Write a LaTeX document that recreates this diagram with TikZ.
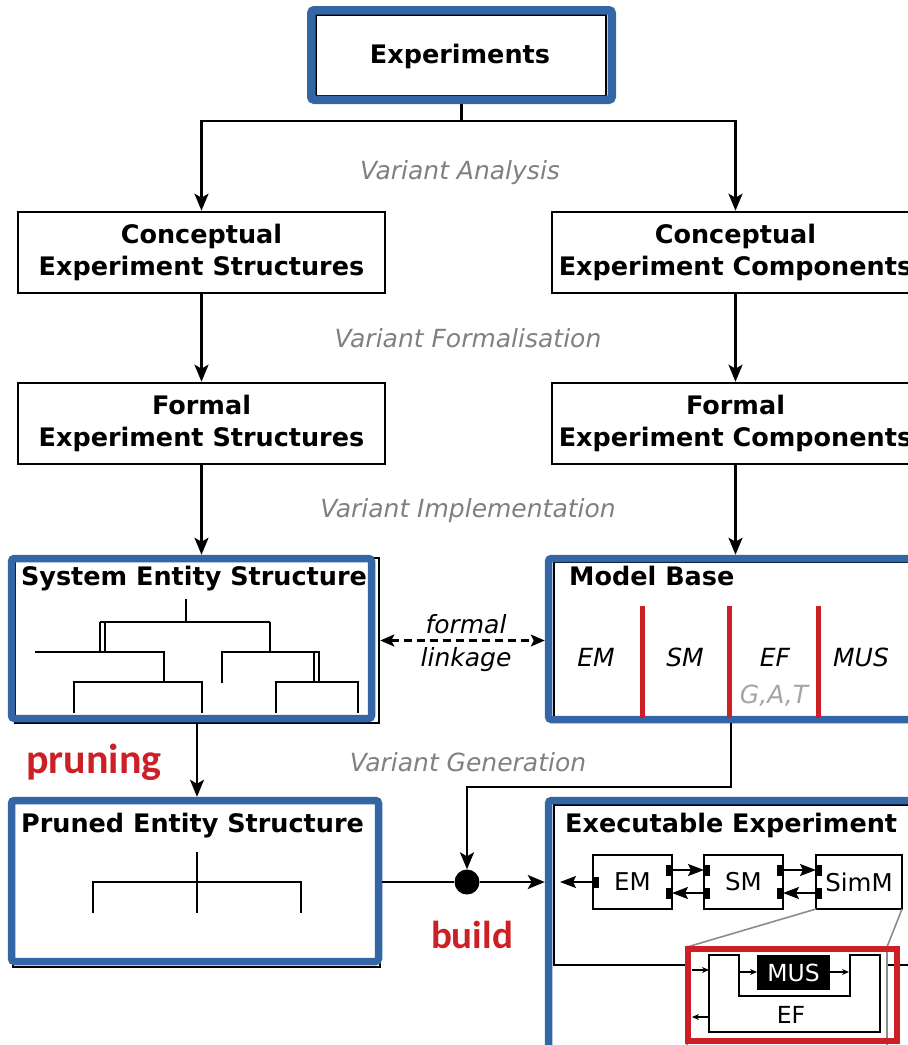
\documentclass[tikz,border=0pt]{standalone}
\usepackage{fontspec}
\setmainfont{DejaVu Sans}
\newfontfamily\calib{Carlito}
\usetikzlibrary{arrows.meta}

\definecolor{frameblue}{RGB}{52,101,164}
\definecolor{accentred}{RGB}{204,31,38}
\definecolor{labelgray}{RGB}{128,128,128}
\definecolor{palegray}{RGB}{165,165,165}
\definecolor{zoomgray}{RGB}{140,140,140}

\begin{document}
\begin{tikzpicture}[x=1pt, y=-1pt,
  box/.style={draw, line width=2.6pt, fill=white, align=center, inner sep=0pt,
    font=\fontsize{25.5}{32}\selectfont\bfseries},
  blackbox/.style={draw, line width=2.6pt, fill=white, inner sep=0pt},
  frame/.style={draw=frameblue, line width=7.5pt, rounded corners=3pt, inner sep=0pt},
  title/.style={anchor=base, inner sep=0pt, font=\fontsize{25.5}{30}\selectfont\bfseries},
  varlabel/.style={anchor=base, inner sep=0pt, text=labelgray,
    font=\fontsize{25}{30}\selectfont\itshape},
  mbtext/.style={anchor=base, inner sep=0pt, font=\fontsize{25}{30}\selectfont\itshape},
  redword/.style={anchor=base, inner sep=0pt, text=accentred},
  smallbox/.style={draw, line width=1.8pt, fill=white, minimum height=54pt,
    inner sep=0pt, outer sep=0pt, font=\fontsize{24.5}{28}\selectfont},
  port/.style={fill=black, minimum width=6pt, minimum height=11pt, inner sep=0pt, outer sep=0pt},
  arr/.style={-{Stealth[length=17pt,width=14pt,inset=4pt]}, line width=2.4pt},
  darr/.style={{Stealth[length=14pt,width=12pt,inset=3pt]}-{Stealth[length=14pt,width=12pt,inset=3pt]},
    line width=2.2pt, dash pattern=on 8pt off 5pt},
  smallarr/.style={-{Stealth[length=16pt,width=12pt,inset=3pt]}, line width=2pt},
  tinyarr/.style={-{Stealth[length=7pt,width=6pt]}, line width=1.3pt},
  tree/.style={line width=2.3pt},
  zoomline/.style={draw=zoomgray, line width=1.6pt},
  redbar/.style={draw=accentred, line width=5pt}
]
\useasboundingbox (0,0) rectangle (908,1045);

% ---------- Experiments ----------
\node[blackbox, minimum width=290pt, minimum height=81pt] (exps) at (461,55.5) {};
\node[frame, line width=8.5pt, minimum width=300.5pt, minimum height=89.5pt] (expsF) at (461.5,55) {};
\node[title] (expsT) at (460,63) {Experiments};

% ---------- conceptual and formal boxes ----------
\node[box, minimum width=367pt, minimum height=81pt] (cstruct) at (201.5,252.5) {Conceptual\\Experiment Structures};
\node[box, minimum width=367pt, minimum height=81pt] (ccomp) at (735.5,252.5) {Conceptual\\Experiment Components};
\node[box, minimum width=367pt, minimum height=81pt] (fstruct) at (201.5,423.5) {Formal\\Experiment Structures};
\node[box, minimum width=367pt, minimum height=81pt] (fcomp) at (735.5,423.5) {Formal\\Experiment Components};

% ---------- System Entity Structure ----------
\node[blackbox, minimum width=364pt, minimum height=165pt] (ses) at (197,640.5) {};
\node[frame, minimum width=360pt, minimum height=160pt] (sesF) at (191.5,638.5) {};
\node[title] (sesT) at (194,585) {System Entity Structure};
\draw[tree] (185.7,599) -- (185.7,622);
\draw[tree] (100,622) -- (270,622);
\draw[tree] (100,622) -- (100,652);
\draw[tree] (105,622) -- (105,652);
\draw[tree] (270,622) -- (270,652);
\draw[tree] (35,652) -- (164,652) -- (164,682);
\draw[tree] (74,713) -- (74,682) -- (202,682) -- (202,713);
\draw[tree] (222,683) -- (222,652) -- (320,652);
\draw[tree] (314,652) -- (314,682);
\draw[tree] (319,652) -- (319,682);
\draw[tree] (276,713) -- (276,682) -- (358,682) -- (358,713);

% ---------- Model Base ----------
\node[blackbox, minimum width=365pt, minimum height=156pt] (mb) at (736.5,640) {};
\node[frame, minimum width=372.5pt, minimum height=161pt] (mbF) at (734.75,639) {};
\node[title, anchor=base west] (mbT) at (569,585) {Model Base};
\draw[redbar] (642,606) -- (642,718);
\draw[redbar] (729,606) -- (729,718);
\draw[redbar] (818,606) -- (818,718);
\node[mbtext] (mbEM) at (596,666) {EM};
\node[mbtext] (mbSM) at (685,666) {SM};
\node[mbtext] (mbEF) at (775,666) {EF};
\node[mbtext, text=palegray] (mbGAT) at (774,703) {G,A,T};
\node[mbtext] (mbMUS) at (861,666) {MUS};

% ---------- Pruned Entity Structure ----------
\node[blackbox, minimum width=367pt, minimum height=167pt] (pes) at (196.5,883.5) {};
\node[frame, minimum width=367pt, minimum height=161pt] (pesF) at (195,881) {};
\node[title] (pesT) at (192.5,832) {Pruned Entity Structure};
\draw[tree] (197,852) -- (197,913);
\draw[tree] (93,913) -- (93,882) -- (301,882) -- (301,913);

% ---------- Executable Experiment ----------
\node[blackbox, minimum width=366pt, minimum height=160pt] (exe) at (737,885) {};
\node[frame, minimum width=372.5pt, minimum height=259.5pt] (exeF) at (734.75,930.25) {};
\node[title, anchor=base west] (exeT) at (565,832) {Executable Experiment};

\node[smallbox, minimum width=79pt] (em) at (632.5,882) {EM};
\node[smallbox, minimum width=79pt] (sm) at (743.5,882) {SM};
\node[smallbox, minimum width=86pt] (simm) at (859,882) {SimM};

\node[port, anchor=west] (emP) at (em.west) {};
\node[port, anchor=east] (emR1) at ([yshift=12pt]em.east) {};
\node[port, anchor=east] (emR2) at ([yshift=-11pt]em.east) {};
\node[port, anchor=west] (smL1) at ([yshift=12pt]sm.west) {};
\node[port, anchor=west] (smL2) at ([yshift=-11pt]sm.west) {};
\node[port, anchor=east] (smR1) at ([yshift=12pt]sm.east) {};
\node[port, anchor=east] (smR2) at ([yshift=-11pt]sm.east) {};
\node[port, anchor=west] (simL1) at ([yshift=12pt]simm.west) {};
\node[port, anchor=west] (simL2) at ([yshift=-11pt]simm.west) {};

\coordinate (emOut) at (560,882);
\draw[smallarr] (emP.west) -- (emOut);
\draw[smallarr] (emR1.east) -- (smL1.west);
\draw[smallarr] (smL2.west) -- (emR2.east);
\draw[smallarr] (smR1.east) -- (simL1.west);
\draw[smallarr] (simL2.west) -- (smR2.east);

% magnified view of the simulation model
\node[draw=zoomgray, line width=1.6pt, fill=white, minimum width=200pt, minimum height=113pt,
  inner sep=0pt, outer sep=0pt] (inset) at (787,1003.5) {};
\draw[zoomline] (simm.south west) -- (inset.north west);
\draw[zoomline] (simm.south east) -- (inset.north east);

\draw[line width=1.8pt] (709,955) -- (739,955) -- (739,996) -- (850,996) -- (850,955)
  -- (880,955) -- (880,1032) -- (709,1032) -- cycle;
\node[fill=black, text=white, minimum width=73pt, minimum height=35pt, inner sep=0pt,
  outer sep=0pt, font=\fontsize{23.5}{26}\selectfont] (mus) at (793.5,972.5) {MUS};
\node[anchor=base, inner sep=0pt, font=\fontsize{23.5}{26}\selectfont] (efT) at (791,1023) {EF};

\coordinate (musIn) at (740,972);
\coordinate (musOut) at (849,972);
\draw[tinyarr] (musIn) -- (mus.west |- musIn);
\draw[tinyarr] (mus.east |- musOut) -- (musOut);
\coordinate (efInSrc) at (692,970);
\coordinate (efIn) at (709,970);
\coordinate (efOutSrc) at (709,1017);
\coordinate (efOut) at (692,1017);
\draw[tinyarr] (efInSrc) -- (efIn);
\draw[tinyarr] (efOutSrc) -- (efOut);

\node[draw=accentred, line width=6.5pt, minimum width=209pt, minimum height=92pt,
  inner sep=0pt] (redF) at (792.5,995) {};

% ---------- connectors ----------
\draw[line width=2.4pt] (expsF.south) -- ++(0,17) coordinate (split);
\draw[arr] (split) -| (cstruct.north);
\draw[arr] (split) -| (ccomp.north);
\draw[arr] (cstruct.south) -- (fstruct.north);
\draw[arr] (ccomp.south) -- (fcomp.north);
\draw[arr] (fstruct.south) -- (fstruct.south |- sesF.north);
\draw[arr] (fcomp.south) -- (fcomp.south |- mbF.north);
\draw[darr] (ses.east) -- (ses.east -| mbF.west);
\draw[arr] (ses.south) -- (ses.south |- pesF.north);

\node[circle, fill=black, minimum size=25pt, inner sep=0pt] (dot) at (467,882) {};
\draw[arr] ([xshift=-4pt]mbF.south) -- ++(0,64) -| (dot.north);
\draw[line width=2.4pt] (pesF.east |- dot) -- (dot);
\draw[arr] (dot) -- (dot -| exeF.west);

% ---------- labels ----------
\node[varlabel] (lAnalysis) at (460,179) {Variant Analysis};
\node[varlabel] (lFormal) at (468,347) {Variant Formalisation};
\node[varlabel] (lImpl) at (468,517) {Variant Implementation};
\node[varlabel] (lGen) at (468,771) {Variant Generation};
\node[mbtext] (lFormalLink) at (466,633) {formal};
\node[mbtext] (lLinkage) at (466,666) {linkage};
\node[redword, font=\fontsize{42}{46}\selectfont\calib\bfseries] (lPruning) at (94,773) {pruning};
\node[redword, font=\fontsize{39}{44}\selectfont\calib\bfseries] (lBuild) at (472,948) {build};
\end{tikzpicture}
\end{document}
